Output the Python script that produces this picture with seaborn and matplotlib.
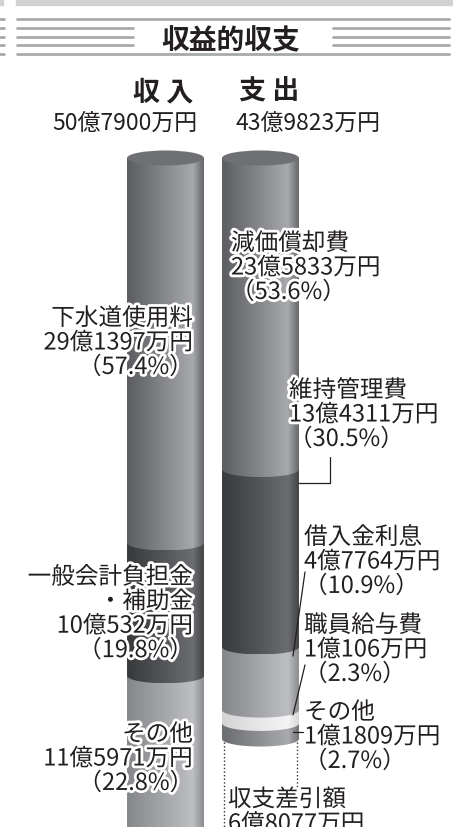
import numpy as np
import pandas as pd
import matplotlib
matplotlib.use('Agg')
import matplotlib.pyplot as plt
import seaborn as sns
from matplotlib.colors import LinearSegmentedColormap
from matplotlib.patches import Ellipse, PathPatch, Rectangle
from matplotlib.path import Path
from matplotlib.transforms import Affine2D
import matplotlib.patheffects as pe

# --- data (万円) ---
sides = ['収入', '支出']
side_titles = ['収 入', '支 出']
side_totals = [507900, 439823]

income_items = ['下水道使用料', '一般会計負担金\n・補助金', 'その他']
income_values = [291397, 100532, 115971]
income_pcts = [57.4, 19.8, 22.8]

expense_items = ['減価償却費', '維持管理費', '借入金利息', '職員給与費', 'その他']
expense_values = [235833, 134311, 47764, 10106, 11809]
expense_pcts = [53.6, 30.5, 10.9, 2.3, 2.7]

balance_item = '収支差引額'
balance_value = 68077

# segment colour ramps (left edge, middle, highlight, right edge)
income_ramps = [
    ['#5c5d60', '#838487', '#a8a9ac', '#66676a'],
    ['#38393b', '#525356', '#6c6d70', '#434446'],
    ['#86878a', '#a3a4a7', '#bebfc2', '#8c8d90'],
]
expense_ramps = [
    ['#5c5d60', '#838487', '#a8a9ac', '#66676a'],
    ['#38393b', '#525356', '#6c6d70', '#434446'],
    ['#86878a', '#a3a4a7', '#bebfc2', '#8c8d90'],
    ['#d4d4d5', '#e6e6e7', '#f4f4f4', '#d8d8d9'],
    ['#6b6c6f', '#8b8c8f', '#a9aaad', '#747578'],
]


def yen(v):
    return f'{v // 10000}億{v % 10000}万円'


W, H = 453, 827
BAR_W = 0.81
CAP = 0.57  # half height of the ellipse, 億円

sns.set_theme(style='white')
plt.rcParams['font.family'] = ['Noto Sans CJK JP', 'DejaVu Sans']

fig = plt.figure(figsize=(W / 100, H / 100), dpi=100, facecolor='white')
ax = fig.add_axes([0, 0, 1, 1])
pix = Affine2D().scale(1 / W, -1 / H).translate(0, 1) + fig.transFigure


def draw_stack(side, values, ramps, base_z):
    cum = np.cumsum(np.array(values) / 10000)
    for k in range(len(values)):
        n_before = len(ax.patches)
        sns.barplot(x=[side], y=[cum[k]], order=sides, width=BAR_W,
                    color='grey', ax=ax)
        bar = ax.patches[n_before]
        bar.set_visible(False)
        x0 = bar.get_x()
        x1 = x0 + bar.get_width()
        cx = (x0 + x1) / 2
        top = cum[k] - values[k] / 10000
        bot = cum[k]
        t = np.linspace(0, np.pi, 40)
        arc = np.column_stack([cx + (x1 - x0) / 2 * np.cos(t), bot + CAP * np.sin(t)])
        verts = np.vstack([[x0, top], [x1, top], [x1, bot], arc, [x0, top]])
        clip = PathPatch(Path(verts), facecolor='none', edgecolor='none')
        ax.add_patch(clip)
        cmap = LinearSegmentedColormap.from_list(
            'seg', list(zip([0, 0.45, 0.86, 1], ramps[k])))
        im = ax.imshow(np.linspace(0, 1, 200)[None, :], cmap=cmap, aspect='auto',
                       extent=(x0, x1, bot + CAP, top), zorder=base_z - k)
        im.set_clip_path(clip)
        if k == 0:
            cap = Ellipse((cx, top), x1 - x0, 2 * CAP, facecolor='#6f7073',
                          edgecolor='none', zorder=base_z + 1)
            ax.add_patch(cap)
    return x0, x1, cum[-1]


draw_stack(sides[0], income_values, income_ramps, 20)
ex0, ex1, exp_total = draw_stack(sides[1], expense_values, expense_ramps, 20)

# 収支差引額: dotted outline below the expense bar
inset = 0.022
ax.vlines([ex0 + inset, ex1 - inset], exp_total + 0.2, sum(income_values) / 10000,
          colors='#333333', linestyles=(0, (1, 1.6)), linewidth=1, zorder=5)

ax.set_xlim((0 - 165.5) / 95, (W - 165.5) / 95)
ax.set_ylim((H - 158) / 13.21, (0 - 158) / 13.21)
ax.axis('off')

# --- header ---
ax.add_patch(Rectangle((16, 0), W - 16, 5, transform=pix, color='#d1d2d4', clip_on=False))
ax.add_patch(Rectangle((0, 0), 3, 5, transform=pix, color='#d1d2d4', clip_on=False))
for y in [19, 28, 37, 45, 54]:
    ax.plot([0, 4], [y, y], transform=pix, color='#a7a9ac', lw=2, clip_on=False)
    if y in (19, 54):
        ax.plot([17, 449], [y, y], transform=pix, color='#a7a9ac', lw=2, clip_on=False)
    else:
        ax.plot([17, 133], [y, y], transform=pix, color='#a7a9ac', lw=2, clip_on=False)
        ax.plot([333, 449], [y, y], transform=pix, color='#a7a9ac', lw=2, clip_on=False)
ax.text(231, 41, '収益的収支', transform=pix, ha='center', va='center',
        fontsize=20, fontweight='bold', color='#231f20')

for cx, title in zip([163, 269], side_titles):
    ax.text(cx, 92, title, transform=pix, ha='center', va='center',
            fontsize=19.5, fontweight='bold', color='#231f20')
for cx, total in zip([125, 308], side_totals):
    ax.text(cx, 123, yen(total), transform=pix, ha='center', va='center',
            fontsize=16.5, color='#231f20')

# --- labels ---
stroke = [pe.withStroke(linewidth=4, foreground='white')]
lab_kw = dict(transform=pix, va='center', fontsize=17, color='#231f20',
              linespacing=1.08, path_effects=stroke, zorder=40)

income_pos = [343, 614, 759]
for name, v, p, y in zip(income_items, income_values, income_pcts, income_pos):
    ax.text(193, y, f'{name}\n{yen(v)}\n（{p}%）', ha='right', multialignment='right', **lab_kw)

expense_pos = [(231, 268), (289, 415), (304, 562), (304, 650), (304, 737)]
for name, v, p, (x, y) in zip(expense_items, expense_values, expense_pcts, expense_pos):
    ax.text(x, y, f'{name}\n{yen(v)}\n（{p}%）', ha='left', **lab_kw)

ax.text(228, 812, f'{balance_item}\n{yen(balance_value)}', ha='left', **lab_kw)

# leader lines
lines = [
    ([330, 330, 299], [457, 483, 483]),
    ([305, 293], [572, 656]),
    ([305, 293], [665, 715]),
    ([293, 303], [732, 732]),
]
for xs, ys in lines:
    ax.plot(xs, ys, transform=pix, color='#231f20', lw=0.9, zorder=30, clip_on=False)

fig.savefig('out.png', dpi=100, facecolor='white')
